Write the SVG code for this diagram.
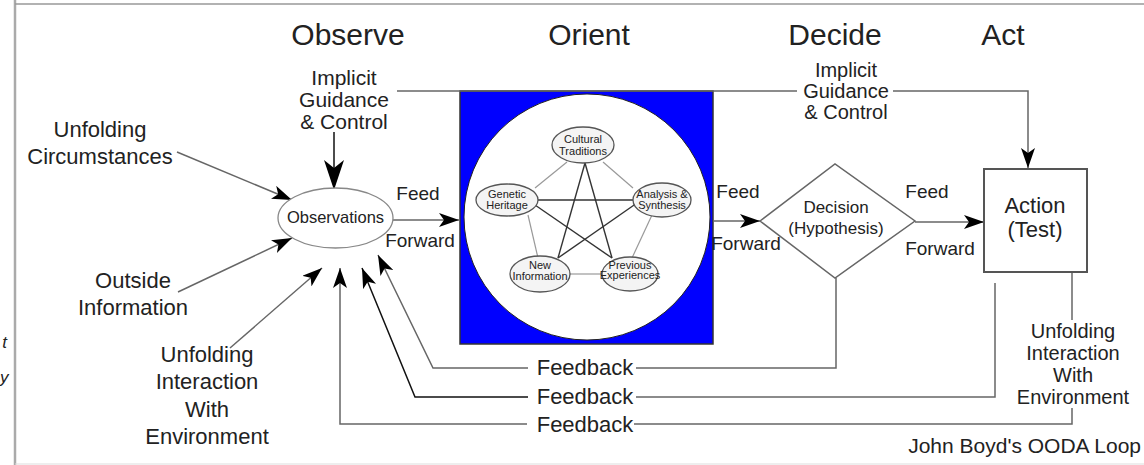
<svg xmlns="http://www.w3.org/2000/svg" width="1144" height="465" viewBox="0 0 1144 465">
<style>
text{font-family:"Liberation Sans",Arial,sans-serif;fill:#222;}
.t{font-size:30px;text-anchor:middle;}
.l{font-size:22px;text-anchor:middle;}
.r{font-size:20px;text-anchor:middle;}
.q{font-size:21px;text-anchor:middle;}
.m{font-size:19px;text-anchor:middle;}
.s{font-size:11px;text-anchor:middle;}
.c{fill:none;stroke:#666;stroke-width:1.5;}
.k{fill:none;stroke:#111;stroke-width:1.5;}
.e{fill:#f4f4f4;stroke:#555;stroke-width:1.3;}
.pg{stroke:#999;stroke-width:1.2;}
.st{stroke:#333;stroke-width:1.4;}
</style>
<defs>
<marker id="ah" viewBox="0 0 20 14" refX="20" refY="7" markerWidth="20" markerHeight="14" markerUnits="userSpaceOnUse" orient="auto"><path d="M0,0 L20,7 L0,14 L5,7 z" fill="#000"/></marker>
<marker id="big" viewBox="0 0 30 20" refX="30" refY="10" markerWidth="30" markerHeight="20" markerUnits="userSpaceOnUse" orient="auto"><path d="M0,0 L30,10 L0,20 L8,10 z" fill="#000"/></marker>
</defs>
<rect width="1144" height="465" fill="#fff"/>
<g id="frame">
<line x1="15" y1="0" x2="15" y2="465" stroke="#aaa" stroke-width="2.5"/>
<line x1="15" y1="4" x2="1144" y2="4" stroke="#999" stroke-width="1.5"/>
<line x1="15" y1="464" x2="1144" y2="464" stroke="#ddd" stroke-width="1"/>
<text x="7" y="348" font-size="17" font-style="italic" text-anchor="end">t</text>
<text x="0" y="383" font-size="17" font-style="italic">y</text>
</g>
<g id="titles">
<text class="t" x="348" y="45">Observe</text>
<text class="t" x="589" y="45">Orient</text>
<text class="t" x="835" y="45">Decide</text>
<text class="t" x="1003" y="45">Act</text>
</g>
<g id="orient">
<rect x="460" y="91" width="253" height="253" fill="#0000ff" stroke="#333" stroke-width="1.5"/>
<circle cx="587" cy="217" r="123" fill="#fff" stroke="#222" stroke-width="1"/>
<g id="pentagon-lines">
<line class="pg" x1="567" y1="162" x2="535" y2="188"/>
<line class="pg" x1="603" y1="162" x2="633" y2="188"/>
<line class="pg" x1="528" y1="215" x2="538" y2="258"/>
<line class="pg" x1="652" y1="215" x2="632" y2="258"/>
<line class="pg" x1="570" y1="274" x2="602" y2="274"/>
<line class="st" x1="585" y1="163" x2="558" y2="258"/>
<line class="st" x1="585" y1="163" x2="612" y2="258"/>
<line class="st" x1="538" y1="200" x2="633" y2="200"/>
<line class="st" x1="535" y1="205" x2="612" y2="258"/>
<line class="st" x1="637" y1="203" x2="558" y2="258"/>
</g>
<g id="cultural"><ellipse class="e" cx="583" cy="145" rx="31" ry="18"/><text class="s" x="583" y="143">Cultural</text><text class="s" x="583" y="155">Traditions</text></g>
<g id="genetic"><ellipse class="e" cx="507" cy="200" rx="31" ry="16"/><text class="s" x="507" y="198" font-size="10">Genetic</text><text class="s" x="507" y="209" font-size="10">Heritage</text></g>
<g id="analysis"><ellipse class="e" cx="662" cy="200" rx="29" ry="17"/><text class="s" x="662" y="198">Analysis &amp;</text><text class="s" x="662" y="209">Synthesis</text></g>
<g id="newinfo"><ellipse class="e" cx="540" cy="274" rx="30" ry="18"/><text class="s" x="540" y="269">New</text><text class="s" x="540" y="280">Information</text></g>
<g id="previous"><ellipse class="e" cx="630" cy="274" rx="28" ry="17"/><text class="s" x="630" y="269" font-size="9">Previous</text><text class="s" x="630" y="279" font-size="9">Experiences</text></g>
</g>
<g id="connectors">
<line class="c" x1="397" y1="91" x2="797" y2="91"/>
<polyline class="c" points="893,91 1028,91 1028,168" marker-end="url(#ah)"/>
<line class="k" x1="334" y1="132" x2="334" y2="190" marker-end="url(#big)"/>
<line class="c" x1="177" y1="152" x2="292" y2="200" marker-end="url(#ah)"/>
<line class="c" x1="178" y1="292" x2="292" y2="238" marker-end="url(#ah)"/>
<line class="c" x1="230" y1="348" x2="322" y2="268" marker-end="url(#ah)"/>
<line class="c" x1="393" y1="220" x2="459" y2="220" marker-end="url(#ah)"/>
<line class="c" x1="713" y1="221" x2="760" y2="221" marker-end="url(#ah)"/>
<line class="c" x1="915" y1="222" x2="984" y2="222" marker-end="url(#ah)"/>
<polyline class="c" points="836,278 836,368 636,368"/>
<polyline class="c" points="528,368 433,368 378,255" marker-end="url(#ah)"/>
<polyline class="c" points="995,283 995,397 636,397"/>
<polyline class="k" points="528,397 415,397 362,268" marker-end="url(#ah)"/>
<line class="c" x1="1072" y1="272" x2="1072" y2="320"/>
<polyline class="c" points="1072,408 1072,424 634,424"/>
<polyline class="c" points="527,424 340,424 340,268" marker-end="url(#ah)"/>
</g>
<g id="observations">
<ellipse cx="335.5" cy="218" rx="57.5" ry="30" fill="#fff" stroke="#888" stroke-width="1.3"/>
<text x="335.5" y="223" font-size="16.5" text-anchor="middle">Observations</text>
</g>
<g id="decision">
<polygon points="760,221 835,164 915,221 835,278" fill="#fff" stroke="#666" stroke-width="1.5"/>
<text x="836" y="213" font-size="17" text-anchor="middle">Decision</text>
<text x="836" y="234" font-size="17" text-anchor="middle">(Hypothesis)</text>
</g>
<g id="action">
<rect x="984" y="169" width="103" height="103" fill="#fff" stroke="#555" stroke-width="2"/>
<text class="l" x="1035" y="213">Action</text>
<text class="l" x="1035" y="237">(Test)</text>
</g>
<g id="labels">
<text class="q" x="344" y="85">Implicit</text>
<text class="q" x="344" y="107">Guidance</text>
<text class="q" x="344" y="129">&amp; Control</text>
<text class="r" x="846" y="77">Implicit</text>
<text class="r" x="846" y="98">Guidance</text>
<text class="r" x="846" y="119">&amp; Control</text>
<text class="l" x="100" y="137">Unfolding</text>
<text class="l" x="100" y="164">Circumstances</text>
<text class="l" x="133" y="288">Outside</text>
<text class="l" x="133" y="315">Information</text>
<text class="l" x="207" y="362">Unfolding</text>
<text class="l" x="207" y="389">Interaction</text>
<text class="l" x="207" y="417">With</text>
<text class="l" x="207" y="444">Environment</text>
<text class="m" x="418" y="200">Feed</text>
<text class="m" x="420" y="247">Forward</text>
<text class="m" x="738" y="198">Feed</text>
<text class="m" x="746" y="250">Forward</text>
<text class="m" x="927" y="198">Feed</text>
<text class="m" x="940" y="255">Forward</text>
<text class="l" x="585" y="375">Feedback</text>
<text class="l" x="585" y="404">Feedback</text>
<text class="l" x="585" y="432">Feedback</text>
<text class="r" x="1073" y="338">Unfolding</text>
<text class="r" x="1073" y="360">Interaction</text>
<text class="r" x="1073" y="382">With</text>
<text class="r" x="1073" y="404">Environment</text>
<text x="1141" y="453" font-size="21" text-anchor="end">John Boyd's OODA Loop</text>
</g>
</svg>
